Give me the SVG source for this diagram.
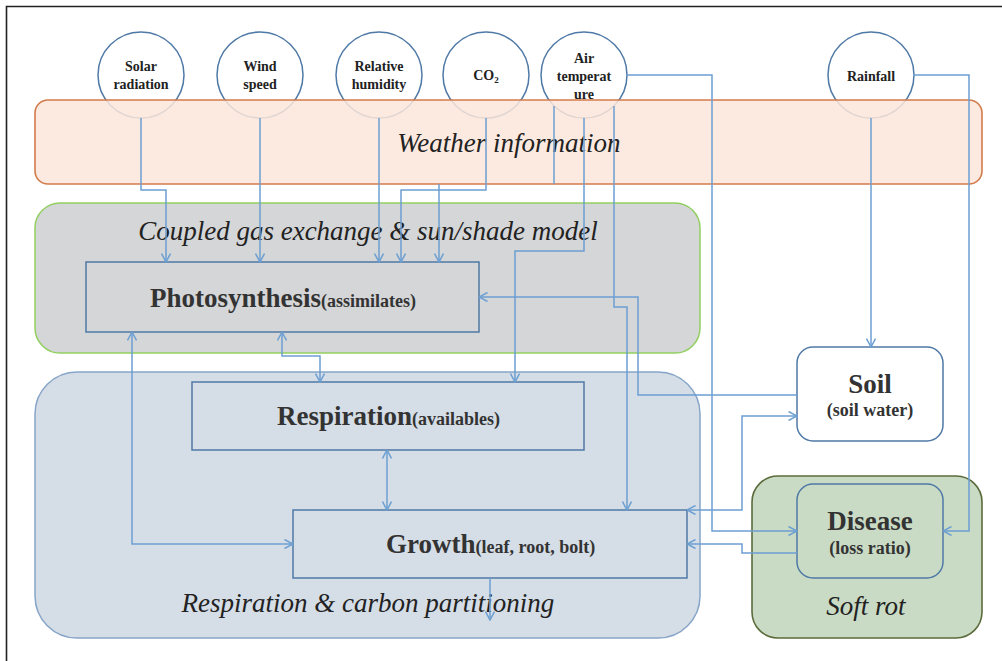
<svg xmlns="http://www.w3.org/2000/svg" width="1002" height="661" viewBox="0 0 1002 661">
<style>
.frame{fill:none;stroke:#222;stroke-width:1.6}
.circ{fill:#fff;stroke:#4f79a6;stroke-width:1.5}
.ct{font-family:'Liberation Serif','Times New Roman','DejaVu Serif',serif;font-weight:bold;font-size:14px;fill:#222;text-anchor:middle}
.title{font-family:'Liberation Serif','Times New Roman','DejaVu Serif',serif;font-style:italic;font-size:27px;fill:#222;text-anchor:middle}
.box{stroke:#4f79a6;stroke-width:1.5}
.big{font-family:'Liberation Serif','Times New Roman','DejaVu Serif',serif;font-weight:bold;font-size:27px;fill:#333}
.small{font-family:'Liberation Serif','Times New Roman','DejaVu Serif',serif;font-weight:bold;font-size:18px;fill:#333}
.con{fill:none;stroke:#6c9fd2;stroke-width:1.5}
</style>
<defs>
<marker id="arr" viewBox="0 0 10 10" refX="9.5" refY="5" markerWidth="10" markerHeight="10" markerUnits="userSpaceOnUse" orient="auto-start-reverse">
<path d="M1,0.5 L9.5,5 L1,9.5" fill="none" stroke="#6c9fd2" stroke-width="1.5"/>
</marker>
</defs>
<rect width="1002" height="661" fill="#fff"/>
<path class="frame" d="M6.5 661 V6.5 H1002"/>

<g id="solar"><circle class="circ" cx="141" cy="75" r="43"/><text class="ct" x="141" y="71">Solar</text><text class="ct" x="141" y="89">radiation</text></g>
<g id="wind"><circle class="circ" cx="260" cy="75" r="43"/><text class="ct" x="260" y="71">Wind</text><text class="ct" x="260" y="89">speed</text></g>
<g id="humidity"><circle class="circ" cx="379" cy="75" r="43"/><text class="ct" x="379" y="71">Relative</text><text class="ct" x="379" y="89">humidity</text></g>
<g id="co2"><circle class="circ" cx="486" cy="75" r="43"/><text class="ct" x="486" y="80">CO<tspan font-size="9" dy="3">2</tspan></text></g>
<g id="airtemp"><circle class="circ" cx="584" cy="75" r="43"/><text class="ct" x="584" y="63">Air</text><text class="ct" x="584" y="81">temperat</text><text class="ct" x="584" y="99">ure</text></g>
<g id="rainfall"><circle class="circ" cx="871" cy="75" r="43"/><text class="ct" x="871" y="81">Rainfall</text></g>

<g id="weather"><rect x="35" y="100" width="947" height="84" rx="13" fill="#fbe6db" fill-opacity="0.85" stroke="#d27b4b" stroke-width="1.6"/><text class="title" x="509" y="152">Weather information</text></g>

<g id="coupled"><rect x="35" y="203" width="665" height="150" rx="25" fill="#d5d6d8" stroke="#92cf60" stroke-width="1.5"/><text class="title" x="368" y="240">Coupled gas exchange &amp; sun/shade model</text></g>

<g id="partitioning"><rect x="35" y="372" width="665" height="266" rx="42" fill="#d5dde6" stroke="#87a5c8" stroke-width="1.5"/><text class="title" x="368" y="612">Respiration &amp; carbon partitioning</text></g>

<g id="softrot"><rect x="752" y="476" width="230" height="162" rx="26" fill="#cadbc5" stroke="#5b6b3b" stroke-width="1.6"/><text class="title" x="866" y="615">Soft rot</text></g>

<g id="photosynthesis"><rect class="box" x="86" y="262" width="393" height="70" fill="none"/><text x="150" y="307"><tspan class="big">Photosynthesis</tspan><tspan class="small">(assimilates)</tspan></text></g>

<g id="respiration"><rect class="box" x="192" y="382" width="392" height="68" fill="none"/><text x="277" y="425"><tspan class="big">Respiration</tspan><tspan class="small">(availables)</tspan></text></g>

<g id="growth"><rect class="box" x="293" y="510" width="394" height="68" fill="none"/><text x="386" y="553"><tspan class="big">Growth</tspan><tspan class="small">(leaf, root, bolt)</tspan></text></g>

<g id="soil"><rect class="box" x="797" y="347" width="146" height="94" rx="16" fill="#fff"/><text class="big" x="870" y="393" text-anchor="middle" fill="#222">Soil</text><text class="small" x="870" y="416" text-anchor="middle" fill="#222">(soil water)</text></g>

<g id="disease"><rect class="box" x="797" y="484" width="146" height="94" rx="16" fill="#cadbc5"/><text class="big" x="870" y="530" text-anchor="middle" fill="#222">Disease</text><text class="small" x="870" y="554" text-anchor="middle" fill="#222">(loss ratio)</text></g>

<g id="connectors">
<path class="con" d="M141 118 V190 H166 V262" marker-end="url(#arr)"/>
<path class="con" d="M260 118 V262" marker-end="url(#arr)"/>
<path class="con" d="M379 118 V262" marker-end="url(#arr)"/>
<path class="con" d="M486 118 V190 H401 V262" marker-end="url(#arr)"/>
<path class="con" d="M554 106 V184"/>
<path class="con" d="M439 184 V262" marker-end="url(#arr)"/>
<path class="con" d="M584 118 V251 H515 V382" marker-end="url(#arr)"/>
<path class="con" d="M614 106 V307 H627 V510" marker-end="url(#arr)"/>
<path class="con" d="M627 75 H712 V531 H797" marker-end="url(#arr)"/>
<path class="con" d="M871 118 V347" marker-end="url(#arr)"/>
<path class="con" d="M913 75 H969 V531 H943" marker-end="url(#arr)"/>
<path class="con" d="M797 395 H638 V297 H479" marker-end="url(#arr)"/>
<path class="con" d="M687 510 H742 V416 H797" marker-start="url(#arr)" marker-end="url(#arr)"/>
<path class="con" d="M797 553 H742 V544 H687" marker-end="url(#arr)"/>
<path class="con" d="M132 332 V544 H293" marker-start="url(#arr)" marker-end="url(#arr)"/>
<path class="con" d="M282 332 V356 H320 V382" marker-start="url(#arr)" marker-end="url(#arr)"/>
<path class="con" d="M387 450 V510" marker-start="url(#arr)" marker-end="url(#arr)"/>
<path class="con" d="M490 578 V620" stroke-width="2" marker-end="url(#arr)"/>
</g>
</svg>
